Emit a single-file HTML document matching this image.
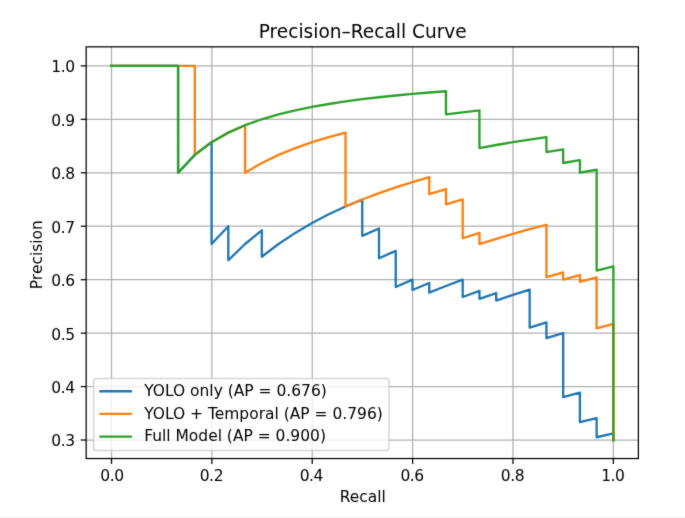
<!DOCTYPE html>
<html lang="en"><head><meta charset="utf-8"><title>Precision–Recall Curve</title>
<style>
html,body{margin:0;padding:0;background:#fff;}
body{width:685px;height:518px;overflow:hidden;position:relative;}
svg{display:block;position:absolute;left:0;top:0;}
svg text{font-family:'DejaVu Sans', 'Liberation Sans', sans-serif;fill:#000;}
svg text.tk{letter-spacing:-0.4px;}
.strip{position:absolute;left:0;bottom:0;width:685px;height:2px;background:linear-gradient(to bottom,#fdfdfd 0,#fdfdfd 1px,#f3f3f3 1px,#f3f3f3 2px);}
</style></head><body>
<svg width="685" height="518" viewBox="0 0 685 518">
<defs><clipPath id="axclip"><rect x="85.91" y="46.84" width="552.48" height="411.69"/></clipPath>
<filter id="soft" x="0" y="0" width="685" height="518" filterUnits="userSpaceOnUse" color-interpolation-filters="sRGB"><feConvolveMatrix order="3" kernelMatrix="0.01134 0.08382 0.01134 0.08382 0.61935 0.08382 0.01134 0.08382 0.01134" divisor="1" edgeMode="duplicate" preserveAlpha="true"/></filter>
</defs>
<g filter="url(#soft)">
<rect x="0" y="0" width="685" height="518" fill="#ffffff"/>
<g clip-path="url(#axclip)" fill="none" stroke="#b0b0b0" stroke-width="1.24" stroke-linecap="square">
<path d="M111.52 458.53V46.84"/>
<path d="M211.88 458.53V46.84"/>
<path d="M312.24 458.53V46.84"/>
<path d="M412.6 458.53V46.84"/>
<path d="M512.97 458.53V46.84"/>
<path d="M613.33 458.53V46.84"/>
<path d="M85.91 440.01H638.39"/>
<path d="M85.91 386.57H638.39"/>
<path d="M85.91 333.12H638.39"/>
<path d="M85.91 279.68H638.39"/>
<path d="M85.91 226.23H638.39"/>
<path d="M85.91 172.79H638.39"/>
<path d="M85.91 119.35H638.39"/>
<path d="M85.91 65.9H638.39"/>
</g>
<g fill="none" stroke="#000" stroke-width="1.24">
<path d="M111.52 458.53v5.41"/>
<path d="M211.88 458.53v5.41"/>
<path d="M312.24 458.53v5.41"/>
<path d="M412.6 458.53v5.41"/>
<path d="M512.97 458.53v5.41"/>
<path d="M613.33 458.53v5.41"/>
<path d="M86.16 440.01h-5.41"/>
<path d="M86.16 386.57h-5.41"/>
<path d="M86.16 333.12h-5.41"/>
<path d="M86.16 279.68h-5.41"/>
<path d="M86.16 226.23h-5.41"/>
<path d="M86.16 172.79h-5.41"/>
<path d="M86.16 119.35h-5.41"/>
<path d="M86.16 65.9h-5.41"/>
</g>
<g font-size="15.47" text-anchor="middle">
<text class="tk" x="112.02" y="481.11">0.0</text>
<text class="tk" x="211.38" y="481.11">0.2</text>
<text class="tk" x="311.34" y="481.11">0.4</text>
<text class="tk" x="412.1" y="481.11">0.6</text>
<text class="tk" x="512.47" y="481.11">0.8</text>
<text class="tk" x="612.83" y="481.11">1.0</text>
<text x="362.75" y="502.27">Recall</text>
</g>
<g font-size="15.47" text-anchor="end">
<text class="tk" x="74.68" y="446.49">0.3</text>
<text class="tk" x="74.68" y="393.02">0.4</text>
<text class="tk" x="74.68" y="339.56">0.5</text>
<text class="tk" x="74.68" y="286.09">0.6</text>
<text class="tk" x="74.68" y="232.63">0.7</text>
<text class="tk" x="74.68" y="179.16">0.8</text>
<text class="tk" x="74.68" y="125.7">0.9</text>
<text class="tk" x="74.68" y="72.23">1.0</text>
</g>
<text font-size="15.47" text-anchor="middle" x="42.47" y="254.68" transform="rotate(-90 42.47 254.68)">Precision</text>
<g clip-path="url(#axclip)" fill="none" stroke-width="2.32" stroke-linecap="square" stroke-linejoin="round">
<path stroke="#1f77b4" d="M111.12 65.8 L127.86 65.8 L144.61 65.8 L161.35 65.8 L178.09 65.8 L178.09 172.73 L194.83 154.91 L211.57 142.18 L211.57 199.47 L211.57 244.02 L228.31 226.2 L228.31 260.22 L245.06 244.02 L261.8 230.31 L261.8 256.75 L278.54 244.02 L295.28 232.88 L312.02 223.05 L328.77 214.32 L345.51 206.5 L362.25 199.47 L362.25 218.56 L362.25 235.92 L378.99 228.52 L378.99 244.02 L378.99 258.28 L395.73 250.88 L395.73 263.82 L395.73 275.85 L395.73 287.04 L412.47 279.66 L412.47 290.01 L429.22 283.01 L429.22 292.63 L445.96 285.96 L462.7 279.66 L462.7 288.58 L462.7 297.01 L479.44 290.92 L479.44 298.86 L496.18 293.03 L496.18 300.53 L512.93 294.94 L529.67 289.61 L529.67 296.68 L529.67 303.43 L529.67 309.88 L529.67 316.07 L529.67 321.99 L529.67 327.68 L546.41 322.44 L546.41 327.89 L546.41 333.13 L546.41 338.17 L563.15 333.13 L563.15 337.99 L563.15 342.68 L563.15 347.2 L563.15 351.57 L563.15 355.79 L563.15 359.86 L563.15 363.81 L563.15 367.62 L563.15 371.32 L563.15 374.9 L563.15 378.37 L563.15 381.74 L563.15 385 L563.15 388.17 L563.15 391.25 L563.15 394.23 L563.15 397.14 L579.89 392.54 L579.89 395.39 L579.89 398.16 L579.89 400.85 L579.89 403.48 L579.89 406.04 L579.89 408.53 L579.89 410.96 L579.89 413.33 L579.89 415.64 L579.89 417.89 L579.89 420.09 L579.89 422.24 L596.63 418.05 L596.63 420.17 L596.63 422.24 L596.63 424.27 L596.63 426.25 L596.63 428.18 L596.63 430.07 L596.63 431.93 L596.63 433.74 L596.63 435.51 L596.63 437.25 L613.38 433.38 L613.38 440.06"/>
<path stroke="#ff7f0e" d="M111.12 65.8 L127.86 65.8 L144.61 65.8 L161.35 65.8 L178.09 65.8 L194.83 65.8 L194.83 154.91 L211.57 142.18 L228.31 132.63 L245.06 125.21 L245.06 172.73 L261.8 163.01 L278.54 154.91 L295.28 148.06 L312.02 142.18 L328.77 137.09 L345.51 132.63 L345.51 160.15 L345.51 184.61 L345.51 206.5 L362.25 199.47 L378.99 193.1 L395.73 187.32 L412.47 182.03 L429.22 177.19 L429.22 194.12 L445.96 189.18 L445.96 204.42 L462.7 199.47 L462.7 213.29 L462.7 226.2 L462.7 238.27 L479.44 232.88 L479.44 244.02 L496.18 238.78 L512.93 233.84 L529.67 229.17 L546.41 224.75 L546.41 234.64 L546.41 244.02 L546.41 252.93 L546.41 261.41 L546.41 269.48 L546.41 277.18 L563.15 272.37 L563.15 279.66 L579.89 275.02 L579.89 281.94 L596.63 277.44 L596.63 284.03 L596.63 290.36 L596.63 296.44 L596.63 302.29 L596.63 307.91 L596.63 313.33 L596.63 318.55 L596.63 323.58 L596.63 328.44 L613.38 323.91 L613.38 440.06"/>
<path stroke="#2ca02c" d="M111.12 65.8 L127.86 65.8 L144.61 65.8 L161.35 65.8 L178.09 65.8 L178.09 172.73 L194.83 154.91 L211.57 142.18 L228.31 132.63 L245.06 125.21 L261.8 119.27 L278.54 114.41 L295.28 110.36 L312.02 106.93 L328.77 103.99 L345.51 101.45 L362.25 99.22 L378.99 97.25 L395.73 95.51 L412.47 93.94 L429.22 92.53 L445.96 91.26 L445.96 114.41 L462.7 112.29 L479.44 110.36 L479.44 129.96 L479.44 148.06 L496.18 145.01 L512.93 142.18 L529.67 139.55 L546.41 137.09 L546.41 152.04 L563.15 149.34 L563.15 163.01 L579.89 160.15 L579.89 172.73 L596.63 169.76 L596.63 181.4 L596.63 192.43 L596.63 202.89 L596.63 212.83 L596.63 222.29 L596.63 231.29 L596.63 239.88 L596.63 248.07 L596.63 255.9 L596.63 263.39 L596.63 270.56 L613.38 266.3 L613.38 440.06"/>
</g>
<rect x="86.16" y="46.84" width="552.23" height="411.69" fill="none" stroke="#000" stroke-width="1.24"/>
<text font-size="18.56" text-anchor="middle" x="362.75" y="37.96">Precision–Recall Curve</text>
<rect x="93.64" y="378.53" width="295.33" height="71.96" rx="3.09" ry="3.09" fill="#ffffff" fill-opacity="0.8" stroke="#cccccc" stroke-opacity="0.8" stroke-width="1.55"/>
<path d="M100.53 391.25H130.77" fill="none" stroke="#1f77b4" stroke-width="2.32" stroke-linecap="square"/>
<text font-size="15.47" x="144.15" y="395.97">YOLO only (AP = 0.676)</text>
<path d="M100.53 413.96H130.77" fill="none" stroke="#ff7f0e" stroke-width="2.32" stroke-linecap="square"/>
<text font-size="15.47" x="144.15" y="418.68">YOLO + Temporal (AP = 0.796)</text>
<path d="M100.53 436.67H130.77" fill="none" stroke="#2ca02c" stroke-width="2.32" stroke-linecap="square"/>
<text font-size="15.47" x="144.15" y="441.38">Full Model (AP = 0.900)</text>
</g>
</svg>
<div class="strip"></div>
</body></html>
